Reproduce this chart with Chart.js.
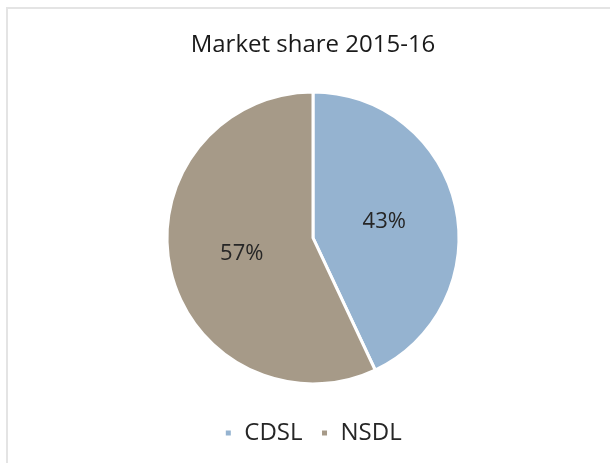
<!DOCTYPE html>
<html>
<head>
<meta charset="utf-8">
<script src="https://cdn.jsdelivr.net/npm/chart.js@4/dist/chart.umd.min.js"></script>
<style>
  html, body { margin: 0; padding: 0; background: #fff; }
  #wrap { position: relative; width: 610px; height: 463px; }
  #frame { position: absolute; left: 6px; top: 7px; right: 0; bottom: 0;
           border-top: 2px solid #e4e4e4; border-left: 2px solid #e4e4e4; }
  canvas { position: absolute; left: 0; top: 0; }
</style>
</head>
<body>
<div id="wrap">
  <div id="frame"></div>
  <canvas id="chart" width="610" height="463"></canvas>
</div>
<script>
const labels = ['CDSL', 'NSDL']
const shares = [43, 57]
const colors = ['#95B3D0', '#A69A88']
const titleText = 'Market share 2015-16'

const FONT = "'Open Sans', 'Noto Sans', sans-serif"

// percent labels drawn at each arc's mid point
const pctLabels = {
  id: 'pctLabels',
  afterDatasetsDraw(chart) {
    const ctx = chart.ctx
    const meta = chart.getDatasetMeta(0)
    ctx.save()
    ctx.font = '22px ' + FONT
    ctx.fillStyle = '#262626'
    ctx.textAlign = 'center'
    ctx.textBaseline = 'middle'
    meta.data.forEach((arc, i) => {
      const p = arc.tooltipPosition()
      ctx.fillText(shares[i] + '%', p.x, p.y)
    })
    ctx.restore()
  }
}

new Chart(document.getElementById('chart').getContext('2d'), {
  type: 'pie',
  data: {
    labels: labels,
    datasets: [{
      data: shares,
      backgroundColor: colors,
      borderColor: '#ffffff',
      borderWidth: 3,
      radius: 146
    }]
  },
  options: {
    responsive: false,
    animation: false,
    layout: { padding: { left: 16, top: 0, bottom: 8 } },
    plugins: {
      tooltip: { enabled: false },
      title: {
        display: true,
        text: titleText,
        color: '#1a1a1a',
        font: { family: FONT, size: 24, weight: 'normal' },
        padding: { top: 31, bottom: 13 }
      },
      legend: {
        position: 'bottom',
        labels: {
          color: '#262626',
          font: { family: FONT, size: 24 },
          boxWidth: 8,
          boxHeight: 8,
          padding: 18
        }
      }
    }
  },
  plugins: [pctLabels]
})
</script>
</body>
</html>
